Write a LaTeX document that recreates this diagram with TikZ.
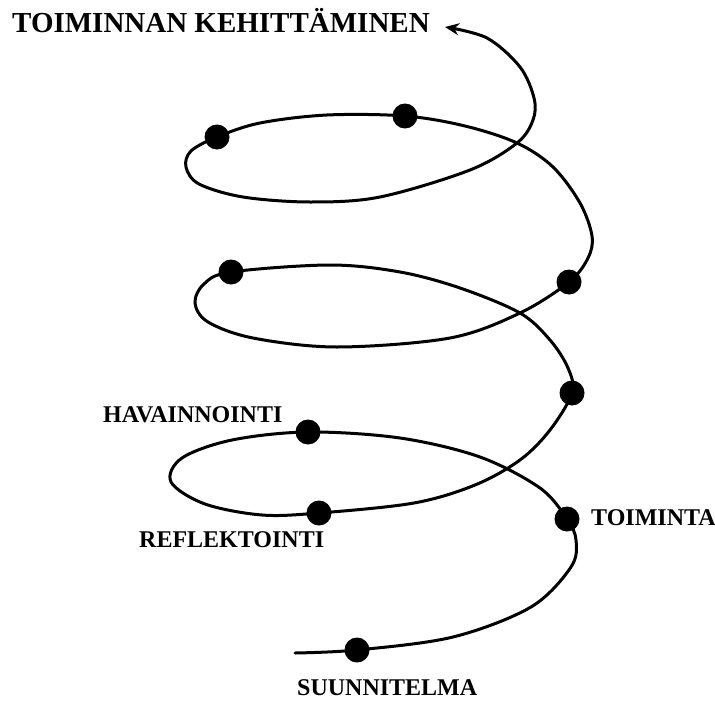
\documentclass[tikz,border=0pt]{standalone}
\usepackage{fontspec}
\setmainfont{Liberation Serif}
\usepackage{tikz}
\usetikzlibrary{arrows.meta}
\tikzset{
  dot/.style={circle, fill=black, inner sep=0pt, minimum width=25pt, minimum height=23pt},
  lbl/.style={anchor=base west, inner sep=0pt, font=\fontsize{24}{24}\selectfont\bfseries},
  spiral/.style={line width=3pt, line cap=round}
}

\begin{document}
\begin{tikzpicture}[x=1pt, y=-1pt, >={Stealth[length=14pt, width=12pt]}]
    \useasboundingbox (0,0) rectangle (715,701);
    \node[lbl, font=\fontsize{29}{29}\selectfont\bfseries] (title) at (12,33) {TOIMINNAN KEHITTÄMINEN};
    % points on the spiral
    \node[dot] (suunnitelma) at (357,650) {};
    \node[dot] (toiminta) at (567,519) {};
    \node[dot] (havainnointi) at (308,432) {};
    \node[dot] (reflektointi) at (319,513) {};
    \node[dot] (m1) at (572,393) {};
    \node[dot] (m2) at (231,272) {};
    \node[dot] (m3) at (569,282) {};
    \node[dot] (t1) at (405,116) {};
    \node[dot] (t2) at (217,137) {};
    % labels
    \node[lbl] (lsuunn) at (297,695) {SUUNNITELMA};
    \node[lbl] (ltoim) at (591,525) {TOIMINTA};
    \node[lbl] (lhav) at (103,422) {HAVAINNOINTI};
    \node[lbl] (lrefl) at (139,547) {REFLEKTOINTI};
    % the spiral
    \draw[spiral, ->] plot[smooth, tension=0.55] coordinates {
      (295,653) (suunnitelma.center) (453,637) (531,607) (571,567) (576,540) (toiminta.center)
      (540,488) (480,457) (400,438) (havainnointi.center) (232,440) (182,458) (171,482)
      (205,504) (262,515) (reflektointi.center) (414,503) (475,485) (520,460) (550,430) (m1.center)
      (568,368) (550,340) (520,313) (460,288) (400,272) (330,265) (m2.center) (204,284)
      (195,303) (208,322) (253,338) (337,347) (450,338) (520,313) (m3.center) (588,258)
      (592,236) (580,203) (553,167) (517,143) (465,126) (t1.center) (327,115) (260,123) (t2.center)
      (191,151) (186,167) (199,184) (243,197) (310,202) (380,197) (470,170) (517,143) (533,120)
      (534,98) (520,67) (487,38) (445,27)};
\end{tikzpicture}
\end{document}
